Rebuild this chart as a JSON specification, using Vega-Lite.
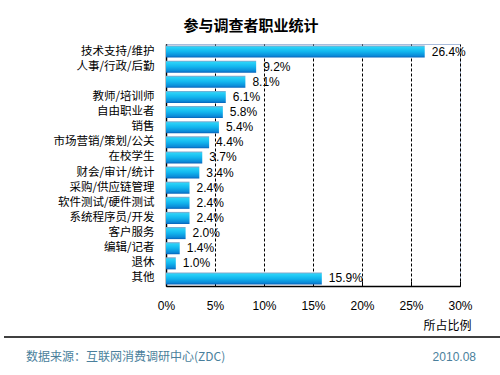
{
  "$schema": "https://vega.github.io/schema/vega-lite/v6.json",
  "autosize": "none",
  "width": 294,
  "height": 242,
  "padding": {"left": 166, "top": 44, "right": 40, "bottom": 89},
  "background": "white",
  "title": {
    "text": "参与调查者职业统计",
    "font": "Noto Sans CJK SC",
    "fontSize": 15,
    "fontWeight": "bold",
    "color": "#000000",
    "anchor": "middle",
    "dx": -62,
    "offset": 10
  },
  "config": {
    "view": {"stroke": "#a8bcdc", "strokeWidth": 1},
    "axis": {"labelFont": "Noto Sans CJK SC", "titleFont": "Noto Sans CJK SC"}
  },
  "data": {
    "values": [
      {"job": "技术支持/维护", "pct": 26.4, "label": "26.4%"},
      {"job": "人事/行政/后勤", "pct": 9.2, "label": "9.2%"},
      {"job": " ", "pct": 8.1, "label": "8.1%"},
      {"job": "教师/培训师", "pct": 6.1, "label": "6.1%"},
      {"job": "自由职业者", "pct": 5.8, "label": "5.8%"},
      {"job": "销售", "pct": 5.4, "label": "5.4%"},
      {"job": "市场营销/策划/公关", "pct": 4.4, "label": "4.4%"},
      {"job": "在校学生", "pct": 3.7, "label": "3.7%"},
      {"job": "财会/审计/统计", "pct": 3.4, "label": "3.4%"},
      {"job": "采购/供应链管理", "pct": 2.4, "label": "2.4%"},
      {"job": "软件测试/硬件测试", "pct": 2.4, "label": "2.4%"},
      {"job": "系统程序员/开发", "pct": 2.4, "label": "2.4%"},
      {"job": "客户服务", "pct": 2.0, "label": "2.0%"},
      {"job": "编辑/记者", "pct": 1.4, "label": "1.4%"},
      {"job": "退休", "pct": 1.0, "label": "1.0%"},
      {"job": "其他", "pct": 15.9, "label": "15.9%"}
    ]
  },
  "encoding": {
    "y": {
      "field": "job",
      "type": "nominal",
      "sort": null,
      "scale": {"paddingInner": 0.2, "paddingOuter": 0.1},
      "axis": {
        "title": null,
        "domainColor": "#000000",
        "domainWidth": 1.5,
        "ticks": false,
        "labelPadding": 12,
        "labelFontSize": 11.5,
        "labelColor": "#000000",
        "labelFont": "Noto Sans CJK SC"
      }
    },
    "x": {
      "field": "pct",
      "type": "quantitative",
      "scale": {"domain": [0, 30], "nice": false},
      "axis": {
        "values": [0, 5, 10, 15, 20, 25, 30],
        "labelExpr": "datum.value + '%'",
        "labelFont": "Liberation Sans",
        "labelFontSize": 12,
        "labelColor": "#000000",
        "labelFlush": false,
        "labelPadding": 19,
        "grid": true,
        "gridColor": "#000000",
        "gridDash": [3, 2],
        "gridWidth": 1,
        "domainColor": "#000000",
        "domainWidth": 1.5,
        "tickColor": "#000000",
        "tickSize": -5,
        "title": "所占比例",
        "titleFont": "Noto Sans CJK SC",
        "titleFontSize": 12,
        "titleFontWeight": "normal",
        "titleColor": "#000000",
        "titleAnchor": "end",
        "titleAlign": "right",
        "titleX": 305,
        "titlePadding": 9
      }
    }
  },
  "layer": [
    {
      "mark": {
        "type": "bar",
        "fill": {
          "x1": 0, "y1": 0, "x2": 0, "y2": 1,
          "gradient": "linear",
          "stops": [
            {"offset": 0, "color": "#8ea4c6"},
            {"offset": 0.15, "color": "#2ad2f8"},
            {"offset": 0.5, "color": "#12b6ee"},
            {"offset": 0.85, "color": "#0a8ad8"},
            {"offset": 1, "color": "#0660b8"}
          ]
        },
        "strokeWidth": 0
      }
    },
    {
      "mark": {
        "type": "text",
        "align": "left",
        "baseline": "middle",
        "dx": 7,
        "font": "Liberation Sans",
        "fontSize": 12,
        "color": "#000000"
      },
      "encoding": {"text": {"field": "label"}}
    },
    {
      "data": {"values": [{"t": "数据来源：互联网消费调研中心(ZDC)"}]},
      "mark": {
        "type": "text",
        "align": "left",
        "baseline": "middle",
        "font": "Noto Sans CJK SC",
        "fontSize": 12,
        "color": "#4a7f9c"
      },
      "encoding": {
        "x": {"value": -140},
        "y": {"value": 313},
        "text": {"field": "t"}
      }
    },
    {
      "data": {"values": [{"t": "2010.08"}]},
      "mark": {
        "type": "text",
        "align": "right",
        "baseline": "middle",
        "font": "Liberation Sans",
        "fontSize": 12,
        "color": "#4a7f9c"
      },
      "encoding": {
        "x": {"value": 310},
        "y": {"value": 313},
        "text": {"field": "t"}
      }
    },
    {
      "data": {"values": [{"a": 1}]},
      "mark": {"type": "rule", "color": "#000000", "strokeWidth": 1.5, "clip": false},
      "encoding": {
        "x": {"value": -162},
        "x2": {"value": 334},
        "y": {"value": 293}
      }
    }
  ]
}
